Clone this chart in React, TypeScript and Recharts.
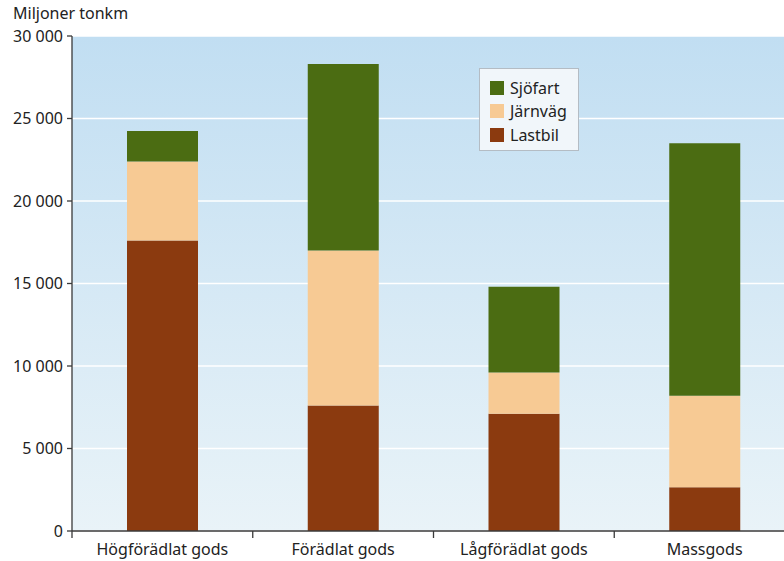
import { BarChart, Bar, XAxis, YAxis, CartesianGrid } from 'recharts';

const categories = ['Högförädlat gods', 'Förädlat gods', 'Lågförädlat gods', 'Massgods'];
const lastbil = [17600, 7600, 7100, 2650];
const jarnvag = [4800, 9400, 2500, 5550];
const sjofart = [1850, 11300, 5200, 15300];
const yTicks = [0, 5000, 10000, 15000, 20000, 25000, 30000];

const data = categories.map((name, i) => ({
  name,
  Lastbil: lastbil[i],
  Järnväg: jarnvag[i],
  Sjöfart: sjofart[i],
}));

const series = [
  { key: 'Sjöfart', color: '#4b6c12' },
  { key: 'Järnväg', color: '#f7ca94' },
  { key: 'Lastbil', color: '#8b3a0f' },
];

const FONT = '"Noto Sans", sans-serif';
const AXIS = '#3a3a3a';
const BAND = 723 / categories.length;

const fmt = (v: number) => (v === 0 ? '0' : `${Math.floor(v / 1000)} ${String(v % 1000).padStart(3, '0')}`);

const CategoryTick = ({ x, y, payload }: { x?: number; y?: number; payload?: { value: string } }) => {
  const left = (x ?? 0) - BAND / 2;
  return (
    <g>
      <line x1={left} x2={left} y1={y} y2={(y ?? 0) + 7} stroke={AXIS} strokeWidth={1.3} />
      <text x={x} y={(y ?? 0) + 24} textAnchor="middle" fill="#222" fontSize={16} fontFamily={FONT}>
        {payload?.value}
      </text>
    </g>
  );
};

// legend drawn as plain html so it does not eat plot space
const LegendBox = () => (
  <div
    style={{
      position: 'absolute',
      left: 479,
      top: 68,
      width: 100,
      height: 83,
      boxSizing: 'border-box',
      background: '#f1f6fa',
      border: '1px solid #b4bcc4',
      padding: '7px 0 0 10px',
      fontFamily: FONT,
      fontSize: 16,
      color: '#222',
    }}
  >
    {series.map((s) => (
      <div key={s.key} style={{ display: 'flex', alignItems: 'center', height: 23.5 }}>
        <span style={{ width: 14, height: 14, background: s.color, marginRight: 6, display: 'inline-block' }} />
        <span>{s.key}</span>
      </div>
    ))}
  </div>
);

export default function App() {
  return (
    <div style={{ position: 'absolute', left: 0, top: 0, width: 784, height: 561, overflow: 'hidden', background: '#fff' }}>
      <BarChart width={795} height={561} data={data} margin={{ top: 36, right: 0, left: 0, bottom: 0 }}>
        <defs>
          <linearGradient id="bg" x1="0" y1="0" x2="0" y2="1">
            <stop offset="0%" stopColor="#c1def2" />
            <stop offset="100%" stopColor="#e9f3f8" />
          </linearGradient>
        </defs>
        <CartesianGrid vertical={false} stroke="#ffffff" strokeWidth={1.5} fill="url(#bg)" fillOpacity={1} />
        <XAxis
          dataKey="name"
          height={30}
          tickLine={false}
          tickSize={0}
          tickMargin={0}
          axisLine={{ stroke: AXIS, strokeWidth: 1.3 }}
          tick={<CategoryTick />}
          interval={0}
        />
        <YAxis
          width={72}
          domain={[0, 30000]}
          ticks={yTicks}
          interval={0}
          tickFormatter={fmt}
          tickSize={5}
          tickMargin={4}
          axisLine={{ stroke: AXIS, strokeWidth: 1.3 }}
          tickLine={{ stroke: AXIS, strokeWidth: 1.3 }}
          tick={{ fill: '#222', fontSize: 16, fontFamily: FONT }}
          label={{
            content: () => (
              <text x={13} y={19} fill="#222" fontSize={16} fontFamily={FONT}>
                Miljoner tonkm
              </text>
            ),
          }}
        />
        <Bar dataKey="Lastbil" stackId="a" fill="#8b3a0f" barSize={71} isAnimationActive={false} />
        <Bar dataKey="Järnväg" stackId="a" fill="#f7ca94" barSize={71} isAnimationActive={false} />
        <Bar dataKey="Sjöfart" stackId="a" fill="#4b6c12" barSize={71} isAnimationActive={false} />
      </BarChart>
      <LegendBox />
    </div>
  );
}
